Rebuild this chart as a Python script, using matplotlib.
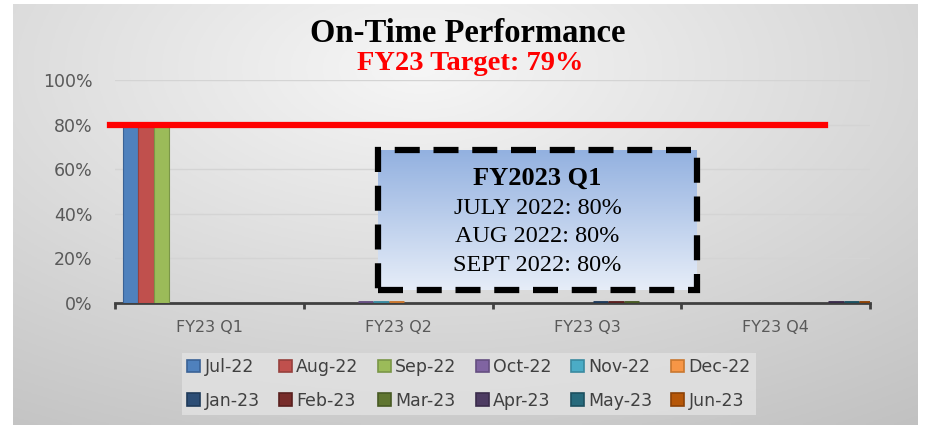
"""
On-Time Performance, FY23 by quarter (monthly columns).
"""

import numpy as np
import matplotlib
matplotlib.use('Agg')
import matplotlib.pyplot as plt
from matplotlib.patches import Rectangle, Patch

# ── Data ────────────────────────────────────────────────────────────────────
QUARTERS = ['FY23 Q1', 'FY23 Q2', 'FY23 Q3', 'FY23 Q4']
MONTHS = ['Jul-22', 'Aug-22', 'Sep-22', 'Oct-22', 'Nov-22', 'Dec-22',
          'Jan-23', 'Feb-23', 'Mar-23', 'Apr-23', 'May-23', 'Jun-23']
MONTH_QUARTER = [0, 0, 0, 1, 1, 1, 2, 2, 2, 3, 3, 3]
ON_TIME = [80, 80, 80, 0, 0, 0, 0, 0, 0, 0, 0, 0]
TARGET_LINE = 80
YTICKS = [0, 20, 40, 60, 80, 100]

BOX_TITLE = 'FY2023 Q1'
BOX_LINES = ['JULY 2022: 80%', 'AUG 2022: 80%', 'SEPT 2022: 80%']

# ── Style ───────────────────────────────────────────────────────────────────
COLORS = ['#4F81BD', '#C0504D', '#9BBB59', '#8064A2', '#4BACC6', '#F79646',
          '#2C4D75', '#772C2A', '#5F7530', '#4D3B62', '#276A7C', '#B65708']
EDGES = ['#3A6296', '#97403D', '#7A9647', '#654F81', '#3A8AA0', '#C9772F',
         '#1F3A5A', '#5A201F', '#485A24', '#3A2C4B', '#1C5060', '#8C4206']
TICK_GREY = '#595959'
W, H = 926, 425

fig = plt.figure(figsize=(W / 100, H / 100), dpi=100)
fig.patch.set_facecolor('white')

def fx(px):
    return px / W

def fy(py):
    return 1 - py / H

# background frame with soft radial grey gradient
bg = fig.add_axes([fx(13), fy(425), fx(918 - 13), fy(4) - fy(425)])
gx, gy = np.meshgrid(np.linspace(0, 1, 300), np.linspace(0, 1, 150))
r = np.sqrt(((gx - 0.45) * 1.0) ** 2 + ((gy - 0.15) * 0.9) ** 2)
shade = 0.965 - 0.22 * r
bg.imshow(np.dstack([shade] * 3).clip(0, 1), aspect='auto', extent=(0, 1, 1, 0))
bg.set_axis_off()

# ── Main axes ───────────────────────────────────────────────────────────────
ax = fig.add_axes([fx(115), fy(303), fx(870 - 115), fy(80) - fy(303)])
ax.set_facecolor('none')

BAR_W = 0.082
GAP = 0.04
for i, (m, q, v) in enumerate(zip(MONTHS, MONTH_QUARTER, ON_TIME)):
    left = q - 0.5 + GAP + i * BAR_W
    ax.bar(left, v, width=BAR_W, align='edge', color=COLORS[i],
           edgecolor=EDGES[i], linewidth=3.5 if v == 0 else 0.8, zorder=3)

ax.set_xlim(-0.5, 3.5)
ax.set_ylim(0, 100)
ax.set_yticks(YTICKS)
ax.set_yticklabels([f'{t}%' for t in YTICKS])
ax.set_xticks(range(len(QUARTERS)))
ax.set_xticklabels(QUARTERS)
ax.set_xticks(np.arange(-0.5, 4, 1), minor=True)
ax.tick_params(axis='x', which='major', length=0, pad=12, labelsize=11.5, labelcolor=TICK_GREY)
ax.tick_params(axis='x', which='minor', length=4, width=2, color='#404040', direction='out')
ax.tick_params(axis='y', length=0, pad=16, labelsize=12.5, labelcolor=TICK_GREY)

for s in ['top', 'right', 'left']:
    ax.spines[s].set_visible(False)
ax.spines['bottom'].set_color('#404040')
ax.spines['bottom'].set_linewidth(2)
ax.yaxis.grid(True, color='#d4d4d4', linewidth=1)
ax.set_axisbelow(True)

# target line
ax.axhline(TARGET_LINE, xmin=-0.007, xmax=0.94, color='#FF0000',
           linewidth=4.5, clip_on=False, zorder=4)

# ── Titles ──────────────────────────────────────────────────────────────────
fig.text(fx(468), fy(34), 'On-Time Performance', ha='center', va='center',
         fontsize=23.5, fontweight='bold', family='Liberation Serif', color='black')
fig.text(fx(470), fy(64), 'FY23 Target: 79%', ha='center', va='center',
         fontsize=20.5, fontweight='bold', family='Liberation Serif', color='#FF0000')

# ── Call-out box ────────────────────────────────────────────────────────────
box = fig.add_axes([fx(378), fy(290), fx(697 - 378), fy(150) - fy(290)])
grad = np.linspace(0, 1, 100)[:, None]
top = np.array([0x93, 0xB1, 0xE0]) / 255
bot = np.array([0xE6, 0xED, 0xF8]) / 255
box.imshow(top + (bot - top) * grad[..., None], aspect='auto', extent=(0, 1, 0, 1))
box.add_patch(Rectangle((0, 0), 1, 1, fill=False, edgecolor='black',
                        linewidth=4.5, linestyle=(0, (4, 2.2)), clip_on=False,
                        transform=box.transAxes))
box.set_axis_off()
box.text(0.5, 0.80, BOX_TITLE, ha='center', va='center', fontsize=19,
         fontweight='bold', family='Liberation Serif', transform=box.transAxes)
for k, line in enumerate(BOX_LINES):
    box.text(0.5, 0.585 - k * 0.205, line, ha='center', va='center', fontsize=17.5,
             family='Liberation Serif', transform=box.transAxes)

# ── Legend ──────────────────────────────────────────────────────────────────
handles = [Patch(facecolor=c, edgecolor=e, linewidth=1.2) for c, e in zip(COLORS, EDGES)]
# reorder so rows read across (matplotlib fills column-wise)
order = [0, 6, 1, 7, 2, 8, 3, 9, 4, 10, 5, 11]
leg = fig.legend([handles[i] for i in order], [MONTHS[i] for i in order],
                 ncol=6, loc='center', bbox_to_anchor=(fx(469), fy(384)),
                 frameon=True, fancybox=False, fontsize=12.5,
                 handlelength=0.75, handleheight=0.75, handletextpad=0.25,
                 columnspacing=1.1, labelspacing=0.9, borderpad=0.3)
leg.get_frame().set_facecolor('#e2e2e2')
leg.get_frame().set_edgecolor('none')
for t in leg.get_texts():
    t.set_color('#404040')

fig.savefig('out.png', dpi=100, facecolor=fig.get_facecolor())
